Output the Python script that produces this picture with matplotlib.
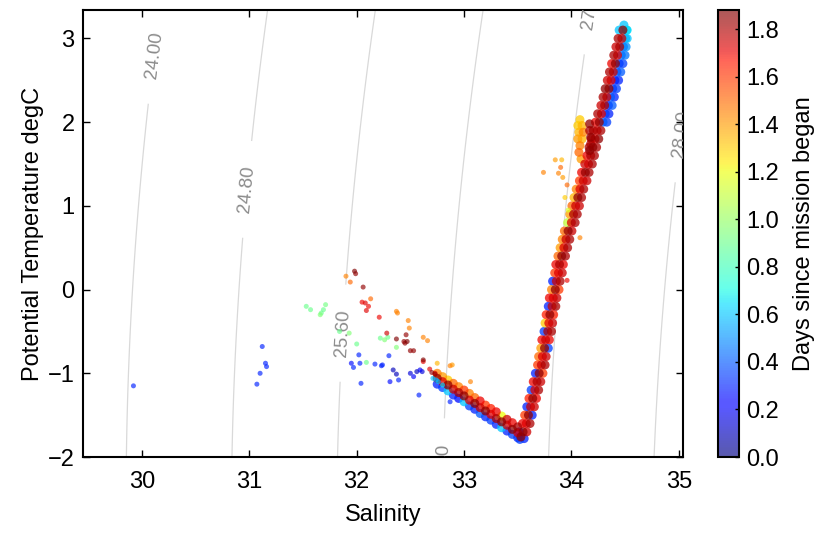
import numpy as np
import matplotlib
matplotlib.use("Agg")
import matplotlib.pyplot as plt
from matplotlib.ticker import FormatStrFormatter

plt.rcParams['font.family'] = ['Liberation Sans', 'DejaVu Sans']

# upper (rising) limb of the T-S curve, read along the band
up_temp = [-1.7, -1.6, -1.5, -1.4, -1.3, -1.2, -1.1, -1.0, -0.9, -0.8, -0.7, -0.6, -0.5, -0.4, -0.3, -0.2, -0.1,
           0.0, 0.1, 0.2, 0.3, 0.4, 0.5, 0.6, 0.7, 0.8, 0.9, 1.0, 1.1, 1.2, 1.3, 1.4, 1.5, 1.6, 1.7, 1.8, 1.9, 2.0,
           2.1, 2.2, 2.3, 2.4, 2.5, 2.6, 2.7, 2.8, 2.9, 3.0, 3.1]
up_sal_left = [33.515, 33.545, 33.565, 33.585, 33.605, 33.625, 33.645, 33.665, 33.685, 33.695, 33.715, 33.725,
               33.745, 33.755, 33.765, 33.785, 33.795, 33.815, 33.825, 33.845, 33.855, 33.875, 33.895, 33.915,
               33.935, 33.965, 33.985, 34.005, 34.025, 34.045, 34.075, 34.095, 34.125, 34.145, 34.165, 34.185,
               34.205, 34.225, 34.245, 34.275, 34.295, 34.315, 34.335, 34.355, 34.375, 34.395, 34.415, 34.435,
               34.445]
up_sal_mid = [33.55, 33.58, 33.60, 33.62, 33.64, 33.66, 33.68, 33.70, 33.72, 33.73, 33.75, 33.76, 33.78, 33.79,
              33.80, 33.82, 33.83, 33.85, 33.86, 33.88, 33.89, 33.91, 33.93, 33.95, 33.97, 34.00, 34.02, 34.04,
              34.06, 34.08, 34.11, 34.13, 34.16, 34.18, 34.20, 34.22, 34.24, 34.26, 34.28, 34.31, 34.33, 34.35,
              34.37, 34.39, 34.41, 34.43, 34.45, 34.47, 34.48]
up_sal_right = [33.585, 33.615, 33.635, 33.655, 33.675, 33.695, 33.715, 33.735, 33.755, 33.765, 33.785, 33.795,
                33.815, 33.825, 33.835, 33.855, 33.865, 33.885, 33.895, 33.915, 33.925, 33.945, 33.965, 33.985,
                34.005, 34.035, 34.055, 34.075, 34.095, 34.115, 34.145, 34.165, 34.195, 34.215, 34.235, 34.255,
                34.275, 34.295, 34.315, 34.345, 34.365, 34.385, 34.405, 34.425, 34.445, 34.465, 34.485, 34.505,
                34.515]
up_day_left = [0.3, 1.7, 1.6, 0.3, 1.65, 0.35, 1.7, 0.3, 1.6, 1.5, 1.4, 1.7, 0.35, 1.3, 1.65, 0.3, 1.7,
               1.45, 0.3, 1.6, 1.7, 1.5, 1.4, 1.45, 1.5, 1.1, 1.4, 1.5, 1.35, 1.45, 1.6, 1.7, 1.75, 1.7, 1.8,
               1.75, 1.8, 1.7, 1.8, 1.75, 1.8, 1.85, 1.75, 1.8, 1.7, 1.8, 1.75, 1.8, 0.6]
up_day_mid = [1.85, 1.72, 1.85, 1.75, 1.85, 1.72, 1.8, 1.85, 1.75, 1.72, 1.85, 1.75, 1.8, 1.72, 1.85, 1.75, 1.72,
              1.85, 1.75, 1.72, 1.8, 1.85, 1.72, 1.75, 1.85, 1.72, 1.8, 1.75, 1.85, 1.72, 1.75, 1.85, 1.72, 1.8,
              1.85, 1.72, 1.75, 1.85, 1.72, 1.8, 1.75, 1.85, 1.72, 1.75, 1.85, 1.72, 1.8, 1.75, 1.85]
up_day_right = [1.75, 1.8, 0.3, 1.75, 1.7, 1.8, 1.75, 1.6, 1.8, 1.75, 0.35, 1.7, 1.8, 1.75, 1.65, 1.8, 1.75,
                1.6, 1.8, 1.75, 1.7, 1.8, 1.8, 1.8, 1.75, 1.8, 1.8, 1.75, 1.8, 1.8, 1.75, 1.8, 1.8, 1.8,
                1.8, 1.85, 1.8, 0.4, 0.35, 0.3, 0.4, 0.35, 0.3, 0.4, 0.35, 0.45, 0.4, 0.5, 0.6]

# blue fringe on the warm end of the upper limb
top_sal = [34.33, 34.35, 34.38, 34.40, 34.42, 34.44, 34.46, 34.48, 34.50, 34.51, 34.52, 34.52, 34.49]
top_temp = [2.0, 2.1, 2.2, 2.3, 2.4, 2.5, 2.6, 2.7, 2.8, 2.9, 3.0, 3.1, 3.16]
top_day = [0.35, 0.3, 0.4, 0.3, 0.35, 0.3, 0.4, 0.35, 0.45, 0.5, 0.6, 0.65, 0.6]

# lower (falling) limb down to the temperature minimum
low_sal = [32.75, 32.80, 32.85, 32.90, 32.95, 33.00, 33.05, 33.10, 33.15, 33.20, 33.25, 33.30, 33.35, 33.40,
           33.45, 33.50]
low_temp_up = [-1.00, -1.04, -1.08, -1.12, -1.16, -1.20, -1.24, -1.29, -1.33, -1.38, -1.42, -1.46, -1.51, -1.55,
               -1.59, -1.64]
low_temp_mid = [-1.06, -1.10, -1.14, -1.19, -1.23, -1.27, -1.32, -1.36, -1.41, -1.45, -1.49, -1.54, -1.58, -1.62,
                -1.67, -1.71]
low_temp_low = [-1.13, -1.17, -1.21, -1.26, -1.30, -1.34, -1.39, -1.43, -1.48, -1.52, -1.56, -1.61, -1.65, -1.69,
                -1.73, -1.77]
low_day_up = [1.45, 1.4, 1.3, 1.5, 1.45, 1.6, 1.45, 1.5, 1.7, 1.6, 1.65, 1.7, 1.2, 1.75, 1.7, 1.8]
low_day_mid = [1.85, 1.72, 1.85, 1.75, 1.8, 1.85, 1.72, 1.85, 1.75, 1.85, 1.72, 1.8, 1.85, 1.75, 1.85, 1.72]
low_day_low = [0.3, 0.35, 0.6, 0.3, 0.25, 0.6, 0.35, 0.3, 0.4, 0.3, 0.35, 0.3, 0.6, 0.3, 0.35, 0.3]

# dense blobs: yellow tongue and dark red finger beside the upper limb, plus the minimum
blob_sal = [34.08, 34.06, 34.10, 34.07, 34.11, 34.06, 34.10, 34.08, 34.07, 34.09,
            34.17, 34.17, 34.18, 34.18, 34.17,
            33.53, 33.56, 33.52]
blob_temp = [2.03, 1.96, 1.96, 1.88, 1.88, 1.80, 1.80, 1.72, 1.64, 1.56,
             1.98, 1.90, 1.82, 1.74, 1.66,
             -1.76, -1.78, -1.79]
blob_day = [1.3, 1.3, 1.35, 1.35, 1.45, 1.4, 1.35, 1.45, 1.5, 1.4,
            1.85, 1.8, 1.85, 1.8, 1.85,
            1.85, 0.3, 0.35]

# scattered points off the main curve
scat_sal = [33.74, 33.85, 33.91, 33.90, 33.88, 33.92, 33.96, 33.94, 33.97, 34.08, 33.96,
            31.98, 31.99, 32.06, 32.46, 32.37, 32.44, 32.45, 32.47, 32.50, 32.53, 32.62, 32.70, 32.73,
            32.05, 32.08, 32.11, 32.09, 32.21, 32.28, 32.62, 32.68, 32.73,
            31.90, 31.94, 32.13, 32.37, 32.38, 32.48, 32.49, 32.62, 32.66, 32.87, 32.75, 32.89, 33.06,
            31.53, 31.57, 31.66, 31.69, 31.71, 31.67, 32.22, 32.26, 32.29, 31.84, 31.93, 32.00, 32.37, 32.09,
            32.02, 31.95, 31.97, 32.03, 32.17, 32.23, 32.34, 32.37, 32.31, 32.39, 32.04, 32.30, 32.50, 32.53,
            32.56, 32.59, 32.61, 32.58, 32.87, 32.24,
            32.71, 32.76, 32.80, 32.74,
            29.92, 31.12, 31.10, 31.07, 31.15, 31.16]
scat_temp = [1.40, 1.55, 1.55, 1.46, 1.39, 1.34, 1.25, 1.10, 0.95, 0.62, 0.11,
             0.22, 0.19, 0.03, -0.54, -0.59, -0.62, -0.64, -0.62, -0.73, -0.73, -0.84, -0.99, -1.01,
             -0.15, -0.16, -0.20, -0.25, -0.33, -0.52, -0.86, -0.95, -1.00,
             0.16, 0.09, -0.11, -0.26, -0.28, -0.37, -0.46, -0.57, -0.61, -0.91, -0.88, -0.90, -1.10,
             -0.20, -0.24, -0.30, -0.24, -0.18, -0.28, -0.58, -0.60, -0.57, -0.50, -0.52, -0.65, -0.69, -0.87,
             -0.78, -0.88, -0.93, -0.88, -0.89, -0.91, -0.96, -1.01, -1.10, -1.08, -1.12, -0.79, -1.00, -1.04,
             -0.98, -0.96, -0.98, -1.26, -1.34, -0.90,
             -1.06, -1.10, -1.14, -1.08,
             -1.15, -0.68, -1.00, -1.13, -0.88, -0.92]
scat_day = [1.45, 1.4, 1.35, 1.5, 1.45, 1.4, 1.5, 1.3, 1.15, 1.45, 1.7,
            1.88, 1.85, 1.85, 1.85, 1.88, 1.85, 1.85, 1.88, 1.85, 1.85, 1.88, 1.85, 1.85,
            1.7, 1.72, 1.7, 1.72, 1.7, 1.75, 1.7, 1.72, 1.7,
            1.45, 1.5, 1.5, 1.45, 1.45, 1.45, 1.45, 1.45, 1.45, 1.45, 1.35, 1.4, 1.45,
            0.9, 0.9, 0.95, 0.9, 0.92, 0.9, 0.9, 0.95, 0.9, 0.9, 0.95, 0.9, 0.95, 0.9,
            0.3, 0.25, 0.3, 0.3, 0.3, 0.3, 0.1, 0.1, 0.25, 0.3, 0.3, 0.3, 0.15, 0.2,
            0.1, 0.2, 0.15, 0.3, 0.3, 0.3,
            0.6, 0.6, 0.65, 0.55,
            0.3, 0.3, 0.3, 0.3, 0.3, 0.3]

density_levels = [24.0, 24.8, 25.6, 26.4, 27.2, 28.0]
label_spots = [(30.09, 2.80), (31.04, 1.19), (31.86, -0.52), (32.86, -2.12), (34.11, 3.40), (34.95, 1.87)]


def sigma0(s, t):
    # UNESCO EOS-80 density at zero pressure, minus 1000
    rho_w = (999.842594 + 6.793952e-2 * t - 9.095290e-3 * t**2 + 1.001685e-4 * t**3
             - 1.120083e-6 * t**4 + 6.536332e-9 * t**5)
    a = 8.24493e-1 - 4.0899e-3 * t + 7.6438e-5 * t**2 - 8.2467e-7 * t**3 + 5.3875e-9 * t**4
    b = -5.72466e-3 + 1.0227e-4 * t - 1.6546e-6 * t**2
    c = 4.8314e-4
    return rho_w + a * s + b * s**1.5 + c * s**2 - 1000.0


fig = plt.figure(figsize=(8.32, 5.33), dpi=100)
ax = fig.add_axes([83 / 832, 76 / 533, 600 / 832, 447 / 533])
cax = fig.add_axes([718 / 832, 76 / 533, 21 / 832, 447 / 533])

ax.set_xlim(29.45, 35.04)
ax.set_ylim(-2.0, 3.34)

sg, tg = np.meshgrid(np.linspace(28.5, 36.0, 300), np.linspace(-3.0, 4.5, 300))
cs = ax.contour(sg, tg, sigma0(sg, tg), levels=density_levels, colors='#d9d9d9', linewidths=0.9, zorder=1)
ax.clabel(cs, fmt='%.2f', fontsize=13.5, colors='#8c8c8c', inline=True, inline_spacing=25,
          manual=label_spots)

# the dense curve: early days first so the latest ones sit on top
band_sal = np.concatenate([up_sal_left, up_sal_mid, up_sal_right, top_sal,
                           low_sal, low_sal, low_sal, blob_sal])
band_temp = np.concatenate([up_temp, up_temp, up_temp, top_temp,
                            low_temp_up, low_temp_mid, low_temp_low, blob_temp])
band_day = np.concatenate([up_day_left, up_day_mid, up_day_right, top_day,
                           low_day_up, low_day_mid, low_day_low, blob_day])
order = np.argsort(band_day, kind='stable')
ax.scatter(band_sal[order], band_temp[order], c=band_day[order], s=42, cmap='jet', vmin=0.0, vmax=1.88,
           alpha=0.75, edgecolors='none', zorder=3)

scat_sal = np.array(scat_sal)
scat_temp = np.array(scat_temp)
scat_day = np.array(scat_day)
order = np.argsort(scat_day, kind='stable')
sc = ax.scatter(scat_sal[order], scat_temp[order], c=scat_day[order], s=13, cmap='jet', vmin=0.0, vmax=1.88,
                alpha=0.65, edgecolors='none', zorder=4)

ax.set_xticks([30, 31, 32, 33, 34, 35])
ax.set_yticks([-2, -1, 0, 1, 2, 3])
ax.tick_params(direction='in', top=True, right=True, length=5, width=1, labelsize=17, pad=6)
ax.tick_params(axis='x', pad=10)
for sp in ax.spines.values():
    sp.set_linewidth(1.5)
ax.set_xlabel('Salinity', fontsize=17, labelpad=8)
ax.set_ylabel('Potential Temperature degC', fontsize=17, labelpad=3)

cb = fig.colorbar(sc, cax=cax)
cb.set_ticks([0.0, 0.2, 0.4, 0.6, 0.8, 1.0, 1.2, 1.4, 1.6, 1.8])
cb.ax.yaxis.set_major_formatter(FormatStrFormatter('%.1f'))
cb.ax.tick_params(direction='in', length=3, width=1, labelsize=17, pad=5)
cb.outline.set_linewidth(1.5)
cb.set_label('Days since mission began', fontsize=17, labelpad=10)

fig.savefig('out.png', dpi=100)
